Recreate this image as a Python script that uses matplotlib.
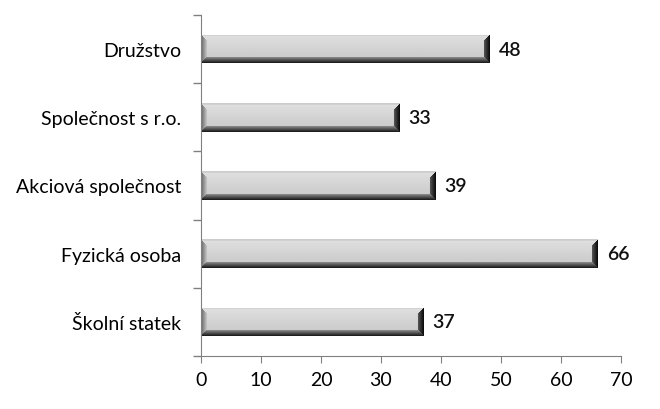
import numpy as np
import matplotlib
matplotlib.use("Agg")
import matplotlib.pyplot as plt

categories = ["Školní statek", "Fyzická osoba", "Akciová společnost",
              "Společnost s r.o.", "Družstvo"]
values = [37, 66, 39, 33, 48]

plt.rcParams["font.family"] = ["Lato", "DejaVu Sans"]


def bevel_image(w_px, h_px, edge=6):
    """Šedý obdélník se zkosenými hranami (styl Excelu)."""
    yy, xx = np.mgrid[0:h_px, 0:w_px]
    d_top = yy
    d_bot = h_px - 1 - yy
    d_left = xx
    d_right = w_px - 1 - xx
    face = 0.88 - 0.10 * (yy / (h_px - 1))
    img = face.copy()
    dists = np.stack([d_top, d_bot, d_left, d_right])
    which = np.argmin(dists, axis=0)
    dmin = np.min(dists, axis=0)
    t = np.clip(dmin / edge, 0, 1)
    inside = dmin < edge
    top_val = 0.80 + 0.10 * t
    bot_val = 0.12 + 0.48 * t
    left_val = 0.42 + 0.40 * t
    right_val = 0.05 + 0.32 * t
    vals = np.choose(which, [top_val, bot_val, left_val, right_val])
    top_edge = (which == 0) & (dmin < 2)
    img[inside & (which != 0)] = vals[inside & (which != 0)]
    img[top_edge] = top_val[top_edge]
    return img


fig = plt.figure(figsize=(6.6, 4.1), dpi=100)
ax = fig.add_axes([0.3045, 0.1293, 0.6364, 0.8317])

y = np.arange(len(categories))
bars = ax.barh(y, values, height=0.42, color="#cccccc", edgecolor="none", zorder=1)

for bar, v in zip(bars, values):
    x0, y0 = bar.get_x(), bar.get_y()
    w, h = bar.get_width(), bar.get_height()
    img = bevel_image(int(w * 6), 29)
    im = ax.imshow(img, cmap="gray", vmin=0, vmax=1, aspect="auto",
                   extent=(x0, x0 + w, y0, y0 + h), origin="upper",
                   interpolation="bilinear", zorder=2)
    im.set_clip_path(bar)

ax.bar_label(bars, labels=[str(v) for v in values], padding=7,
             fontsize=14, fontweight="semibold", color="#111111")

ax.set_xlim(0, 70)
ax.set_ylim(-0.5, len(categories) - 0.5)
ax.set_xticks(range(0, 71, 10))
ax.set_yticks(y)
ax.set_yticklabels(categories, fontsize=14)
ax.set_yticks(np.arange(-0.5, len(categories), 1), minor=True)
ax.tick_params(axis="y", which="major", length=0, pad=14)
ax.tick_params(axis="y", which="minor", length=6, color="#808080", width=1)
ax.tick_params(axis="x", length=5, color="#808080", labelsize=14, pad=6)

for side in ["top", "right"]:
    ax.spines[side].set_visible(False)
for side in ["left", "bottom"]:
    ax.spines[side].set_color("#808080")

fig.savefig("out.png", dpi=100)
